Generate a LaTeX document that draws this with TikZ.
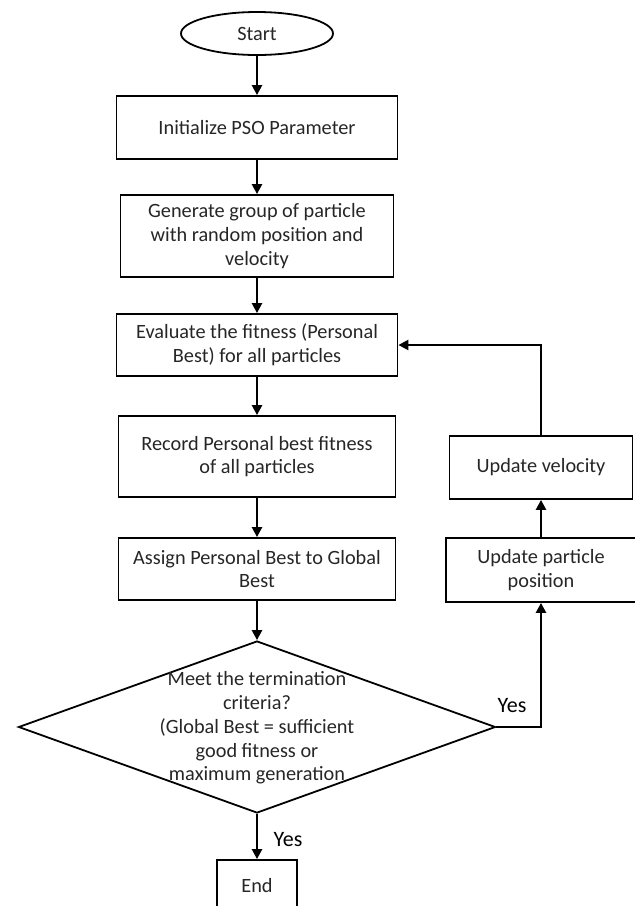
\documentclass[tikz,border=0pt]{standalone}
\usepackage{fontspec}
\setmainfont{Carlito}
\usepackage{tikz}
\usetikzlibrary{shapes.geometric,arrows.meta}

\tikzset{
    stepbox/.style={draw, line width=1.8pt, align=center, inner sep=0pt,
        text=black!85, font=\fontsize{20.3}{23.8}\selectfont},
    flowline/.style={line width=2.4pt, -{Triangle[length=10pt,width=10pt]}},
    yeslabel/.style={inner sep=0pt, font=\fontsize{22}{26}\selectfont},
}

\begin{document}
\begin{tikzpicture}[x=1pt,y=-1pt]
        \def\mx{257} %x of the main column
        \def\rx{541} %x of the right column
        \clip (0,0) rectangle (635,906); %page size

        % main column
        \node [stepbox, ellipse, minimum width=152pt, minimum height=43pt] (start) at (\mx,33.5) {Start};
        \node [stepbox, minimum width=281pt, minimum height=63pt] (init) at (\mx,127.5) {Initialize PSO Parameter};
        \node [stepbox, minimum width=273pt, minimum height=82pt] (gen) at (\mx,236) {Generate group of particle\\with random position and\\velocity};
        \node [stepbox, minimum width=281pt, minimum height=62pt] (eval) at (\mx,345) {Evaluate the fitness (Personal\\Best) for all particles};
        \node [stepbox, minimum width=277pt, minimum height=81pt] (rec) at (\mx,456.5) {Record Personal best fitness\\of all particles};
        \node [stepbox, minimum width=277pt, minimum height=62pt] (assign) at (\mx,569) {Assign Personal Best to Global\\Best};
        \node [stepbox, diamond, minimum width=477pt, minimum height=172pt] (check) at (\mx,727) {};
        \node [stepbox, draw=none] (checktext) at (\mx,728) {Meet the termination\\criteria?\\(Global Best = sufficient\\good fitness or\\maximum generation};
        \node [stepbox, minimum width=80pt, minimum height=52pt] (end) at (\mx,886) {End};

        % right column
        \node [stepbox, minimum width=190pt, minimum height=64pt] (pos) at (\rx,570) {Update particle\\position};
        \node [stepbox, minimum width=183pt, minimum height=63pt] (vel) at (\rx,467.5) {Update velocity};

        \draw [flowline] (start) -- (init);
        \draw [flowline] (init) -- (gen);
        \draw [flowline] (gen) -- (eval);
        \draw [flowline] (eval) -- (rec);
        \draw [flowline] (rec) -- (assign);
        \draw [flowline] (assign) -- (check.north);
        \draw [flowline] (check.south) -- (end);
        \draw [flowline] (check.east) -| (pos.south);
        \draw [flowline] (pos) -- (vel);
        \draw [flowline] (vel.north) |- (eval.east);

        \node [yeslabel] (yesright) at (512,706) {Yes};
        \node [yeslabel] (yesdown) at (288,840) {Yes};
    \end{tikzpicture}
\end{document}
